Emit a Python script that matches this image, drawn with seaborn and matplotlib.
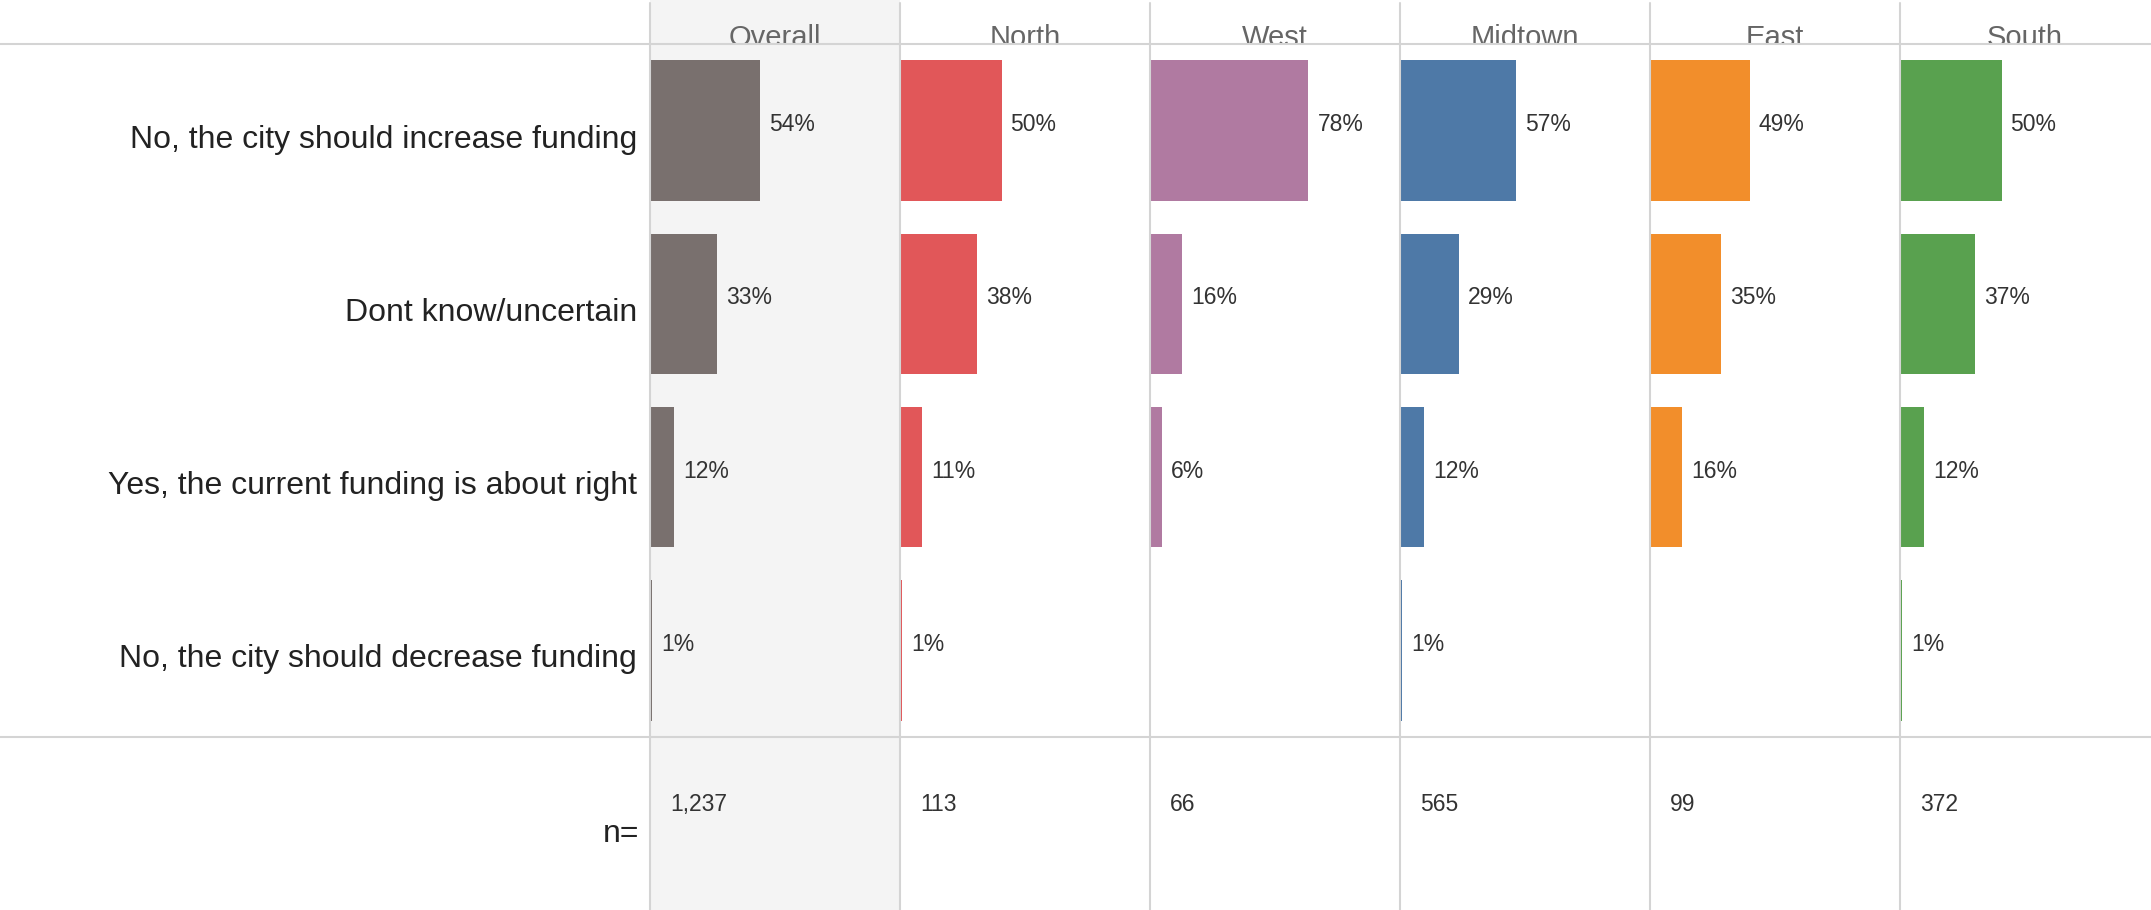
import pandas as pd
import matplotlib
matplotlib.use("Agg")
import matplotlib.pyplot as plt
import seaborn as sns
from matplotlib.lines import Line2D
from matplotlib.patches import Rectangle

# ------------------ data ------------------

answers = [
    "No, the city should increase funding",
    "Dont know/uncertain",
    "Yes, the current funding is about right",
    "No, the city should decrease funding",
]
regions = ["Overall", "North", "West", "Midtown", "East", "South"]

overall = [54, 33, 12, 1]
north = [50, 38, 11, 1]
west = [78, 16, 6, 0]
midtown = [57, 29, 12, 1]
east = [49, 35, 16, 0]
south = [50, 37, 12, 1]

n_counts = [1237, 113, 66, 565, 99, 372]
colors = ["#79706e", "#e15759", "#b07aa1", "#4e79a7", "#f28e2b", "#59a14f"]

# ------------------ layout (pixels) ------------------

W, H = 2151, 910
left0, col_w = 650, 250
head_y, sep_y = 44, 737
grid_c = "#d4d4d4"

sns.set_style("white")
plt.rcParams["font.family"] = ["Liberation Sans", "DejaVu Sans"]

fig = plt.figure(figsize=(W / 100, H / 100), dpi=100)

# shaded Overall column
fig.add_artist(Rectangle((left0 / W, 0), col_w / W, 1, transform=fig.transFigure,
                         facecolor="#f4f4f4", edgecolor="none", zorder=0))

# header strip
hax = fig.add_axes([0, 1 - head_y / H, 1, head_y / H])
hax.set_xlim(0, W)
hax.set_ylim(head_y, 0)
hax.set_axis_off()
for i, reg in enumerate(regions):
    hax.text(left0 + col_w * i + col_w / 2, 46, reg, ha="center", va="baseline",
             fontsize=21, color="#666666", clip_on=True)

values = [overall, north, west, midtown, east, south]

for i, (reg, vals) in enumerate(zip(regions, values)):
    x0 = (left0 + col_w * i) / W
    ax = fig.add_axes([x0, 1 - sep_y / H, col_w / W, (sep_y - head_y) / H])
    df = pd.DataFrame({"answer": answers, "pct": vals})
    sns.barplot(data=df, x="pct", y="answer", color=colors[i], saturation=1,
                width=0.81, orient="h", linewidth=0, edgecolor="none", ax=ax)
    ax.set_xlim(0, 123.1)
    ax.set_axis_off()
    for j, v in enumerate(vals):
        if v > 0:
            ax.annotate(f"{v}%", xy=(v, j), xytext=(9, 6), textcoords="offset pixels",
                        ha="left", va="center", fontsize=16.5, color="#333333")
    if i == 0:
        for j, a in enumerate(answers):
            ax.annotate(a, xy=(0, j), xycoords=("axes fraction", "data"),
                        xytext=(-13, -9), textcoords="offset pixels",
                        ha="right", va="center", fontsize=23, color="#222222",
                        annotation_clip=False)

    # n row
    nax = fig.add_axes([x0, 0, col_w / W, (H - sep_y) / H])
    nax.set_xlim(0, 123.1)
    nax.set_ylim(0.5, -0.5)
    nax.set_axis_off()
    nax.vlines(0, -0.405, 0.405, color=colors[i], lw=1.2, clip_on=False)
    nax.annotate(f"{n_counts[i]:,}", xy=(0, 0), xytext=(20, 19), textcoords="offset pixels",
                 ha="left", va="center", fontsize=16.5, color="#333333")
    if i == 0:
        nax.annotate("n=", xy=(0, 0), xycoords=("axes fraction", "data"),
                     xytext=(-11, -10), textcoords="offset pixels",
                     ha="right", va="center", fontsize=23, color="#222222",
                     annotation_clip=False)

# grid lines
for k in range(len(regions)):
    x = (left0 + col_w * k) / W
    fig.add_artist(Line2D([x, x], [0, 1 - 3 / H], color=grid_c, lw=1.5,
                          transform=fig.transFigure, zorder=5))
for y in (head_y, sep_y):
    fig.add_artist(Line2D([0, 1], [1 - y / H, 1 - y / H], color=grid_c, lw=1.5,
                          transform=fig.transFigure, zorder=5))

fig.savefig("out.png", dpi=100)
